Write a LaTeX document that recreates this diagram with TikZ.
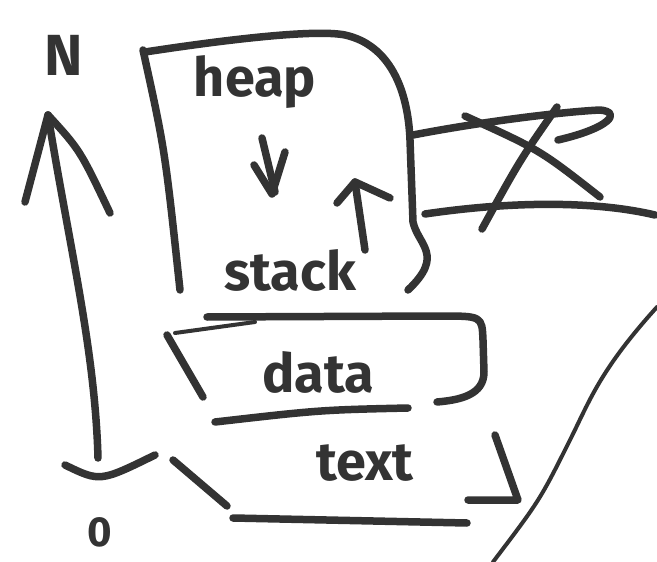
\documentclass[tikz,border=0pt]{standalone}
\usepackage{fontspec}
\setmainfont{Fira Sans}
\definecolor{ink}{HTML}{333333}
\begin{document}
\begin{tikzpicture}[x=1pt,y=-1pt,
  ink/.style={draw=ink,line width=7.5pt,line cap=round,line join=round},
  thin/.style={draw=ink,line width=4pt,line cap=round,line join=round},
  lbl/.style={text=ink,font=\fontsize{54}{56}\selectfont\bfseries,inner sep=0pt}]
\useasboundingbox (0,0) rectangle (657,562);
% axis
\coordinate (atip) at (48,115);
\coordinate (abot) at (98,458);
\draw[ink] (atip) .. controls (70,250) and (95,350) .. (abot);
\draw[ink] (atip) -- (25,202);
\draw[ink] (atip) .. controls (80,150) .. (110,213);
\draw[ink] (65,465) .. controls (100,482) .. (155,455);
\node[lbl,font=\fontsize{58}{60}\selectfont\bfseries] (N) at (64,55) {N};
\node[lbl,font=\fontsize{42}{44}\selectfont\bfseries] (zero) at (100,532) {0};
% heap / stack box
\draw[ink] (143,50) .. controls (165,150) .. (180,290);
\draw[ink] (145,52) .. controls (250,36) and (320,30) .. (345,35)
  .. controls (390,45) and (408,90) .. (410,140) -- (413,222)
  .. controls (418,245) and (445,255) .. (408,290);
\node[lbl] (heap) at (255,82) {heap};
\node[lbl] (stack) at (290,270) {stack};
\draw[ink] (262,138) -- (275,192);
\draw[ink] (254,165) -- (272,194) -- (285,152);
\coordinate (upb) at (365,250);
\coordinate (upt) at (355,182);
\draw[ink] (upb) -- (upt);
\draw[ink] (337,203) -- (upt) -- (390,198);
% X region
\draw[ink] (413,135) .. controls (480,122) and (560,112) .. (600,110)
  .. controls (622,112) and (610,128) .. (558,140);
\draw[ink] (425,214) .. controls (520,200) and (600,202) .. (655,215);
\draw[ink] (465,116) .. controls (540,150) .. (600,197);
\draw[ink] (557,107) .. controls (520,160) .. (482,229);
% data box
\draw[ink] (207,317) -- (440,316) .. controls (482,316) .. (483,340)
  -- (484,372) .. controls (484,395) and (460,400) .. (437,402);
\draw[thin] (175,333) -- (255,322);
\draw[ink] (167,335) -- (203,397);
\draw[ink] (215,422) .. controls (320,410) .. (408,408);
\node[lbl] (data) at (318,372) {data};
% text box
\draw[ink] (173,460) -- (227,506);
\draw[ink] (495,435) -- (518,500) -- (468,500);
\draw[ink] (233,518) -- (467,523);
\node[lbl] (text) at (365,463) {text};
% big curve
\draw[thin] (657,307) .. controls (600,370) and (590,400) .. (570,440)
  .. controls (540,500) .. (493,562);
\end{tikzpicture}
\end{document}
